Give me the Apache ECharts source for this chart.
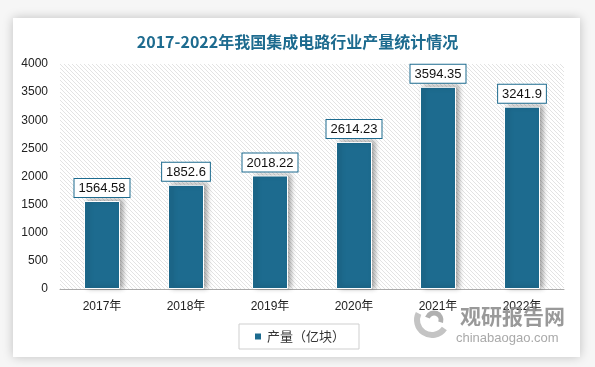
<!DOCTYPE html>
<html><head><meta charset="utf-8">
<script src="https://cdn.jsdelivr.net/npm/echarts@6/dist/echarts.min.js"></script>
<style>html,body{margin:0;padding:0;background:#f6f6f6;}#c{width:595px;height:367px;}</style>
</head><body><div id="c"></div>
<script>
const categories = ['2017年','2018年','2019年','2020年','2021年','2022年'];
const production = [1564.58, 1852.6, 2018.22, 2614.23, 3594.35, 3241.9];
const seriesName = '产量（亿块）';
const titleText = '2017-2022年我国集成电路行业产量统计情况';

const mainColor = '#1d6b8f';
const pc = document.createElement('canvas');
pc.width = 4; pc.height = 4;
const g = pc.getContext('2d');
g.fillStyle = '#ffffff'; g.fillRect(0,0,4,4);
g.strokeStyle = '#e3e3e3'; g.lineWidth = 1;
g.beginPath();
for (let k = -4; k <= 8; k += 4) { g.moveTo(k, 0); g.lineTo(k + 4, 4); }
g.stroke();

const chart = echarts.init(document.getElementById('c'), null, {renderer: 'canvas'});
const fam = '"Liberation Sans", Arial, "Noto Sans CJK SC", sans-serif';
chart.setOption({
  backgroundColor: '#f6f6f6',
  textStyle: {fontFamily: fam},
  graphic: [
    {type: 'rect', z: -10, shape: {x: 13, y: 18, width: 567, height: 339},
     style: {fill: '#ffffff', shadowBlur: 10, shadowColor: 'rgba(0,0,0,0.22)'}},
    {type: 'arc', z: 5, shape: {cx: 432, cy: 320, r: 15, startAngle: 0.6, endAngle: 3.6},
     style: {stroke: '#c4c4c4', lineWidth: 6, fill: null}},
    {type: 'arc', z: 5, shape: {cx: 434, cy: 320, r: 7, startAngle: 3.5, endAngle: 6.6},
     style: {stroke: '#b0b0b0', lineWidth: 5, fill: null}},
    {type: 'text', z: 5, left: 460, top: 306,
     style: {text: '观研报告网', fill: '#8e8e8e', font: 'bold 21px "Noto Sans CJK SC", sans-serif', opacity: 0.9}},
    {type: 'text', z: 5, left: 456, top: 332,
     style: {text: 'chinabaogao.com', fill: '#a0a0a0', font: '13px "Liberation Sans", Arial, sans-serif', opacity: 0.9}}
  ],
  title: {
    text: titleText, left: 'center', top: 29,
    textStyle: {color: mainColor, fontSize: 16, fontWeight: 'bold', fontFamily: '"Noto Sans CJK SC", sans-serif'}
  },
  legend: {
    data: [seriesName], left: 239, top: 324, width: 114, height: 24,
    padding: [6, 14], borderColor: '#cfcfcf', borderWidth: 1,
    icon: 'rect', itemWidth: 8, itemHeight: 8, itemGap: 6,
    textStyle: {fontSize: 13, color: '#333', fontFamily: '"Noto Sans CJK SC", sans-serif'}
  },
  grid: {left: 60, right: 31, top: 64, bottom: 78, show: true, borderWidth: 0,
    backgroundColor: {image: pc, repeat: 'repeat'}},
  xAxis: {
    type: 'category', data: categories,
    axisLine: {lineStyle: {color: '#aaaaaa', width: 1}},
    axisTick: {show: false},
    axisLabel: {color: '#222', fontSize: 12, margin: 12}
  },
  yAxis: {
    type: 'value', min: 0, max: 4000, interval: 500,
    axisLine: {show: false}, axisTick: {show: false}, splitLine: {show: false},
    axisLabel: {color: '#222', fontSize: 12, margin: 12, formatter: v => String(v)}
  },
  series: [{
    name: seriesName, type: 'bar', data: production, barWidth: 36,
    itemStyle: {color: mainColor, borderColor: '#ffffff', borderWidth: 1,
      shadowColor: 'rgba(0,0,0,0.35)', shadowBlur: 5, shadowOffsetX: 3, shadowOffsetY: -1},
    label: {show: true, position: 'top', distance: 4, color: '#111', fontSize: 13,
      backgroundColor: '#ffffff', borderColor: mainColor, borderWidth: 1, padding: [3, 4, 2, 4]}
  }]
});
</script></body></html>
